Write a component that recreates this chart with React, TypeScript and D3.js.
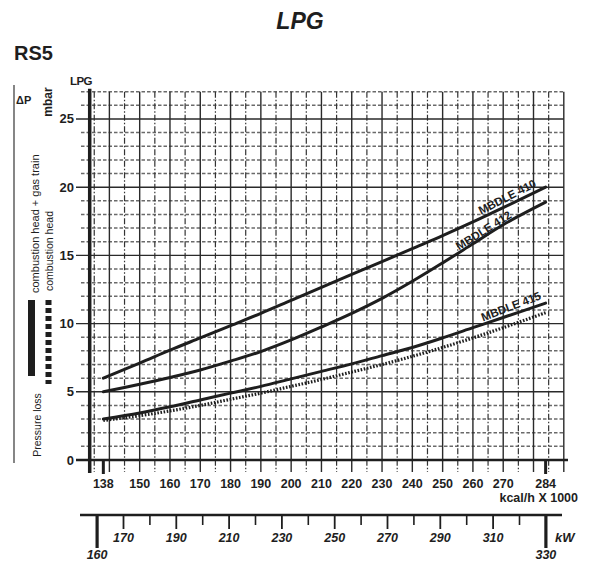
import React from "react";
import * as d3 from "d3";

// kcal/h x 1000
const kcal = [138, 150, 160, 170, 180, 190, 200, 210, 220, 230, 240, 250, 260, 270, 284];
// pressure loss, mbar
const mbdle410 = [6.0, 7.1, 8.05, 8.95, 9.85, 10.75, 11.7, 12.65, 13.6, 14.55, 15.5, 16.45, 17.45, 18.5, 20.0];
const mbdle412 = [5.0, 5.55, 6.05, 6.6, 7.25, 7.95, 8.8, 9.75, 10.75, 11.85, 13.1, 14.45, 15.85, 17.25, 18.9];
const mbdle415 = [3.0, 3.45, 3.9, 4.4, 4.9, 5.4, 5.95, 6.5, 7.05, 7.65, 8.25, 8.95, 9.7, 10.45, 11.5];
const headOnly = [2.9, 3.25, 3.6, 4.0, 4.45, 4.9, 5.4, 5.9, 6.45, 7.0, 7.6, 8.25, 8.95, 9.7, 10.8];

const xTickLabels = [138, 150, 160, 170, 180, 190, 200, 210, 220, 230, 240, 250, 260, 270, 284];
const yTickLabels = [0, 5, 10, 15, 20, 25];
const kwLabels = [170, 190, 210, 230, 250, 270, 290, 310];
const kwMinor = [180, 200, 220, 240, 260, 280, 300, 320];
const kwEnds = [160, 330];

const curveLabels = [
  { text: "MBDLE 410", series: mbdle410, k: 272.5, angle: -27, dy: -4 },
  { text: "MBDLE 412", series: mbdle412, k: 264.5, angle: -32, dy: -1.5 },
  { text: "MBDLE 415", series: mbdle415, k: 273.5, angle: -21, dy: -4 },
];

const W = 595;
const H = 564;
const INK = "#1e1e1e";
const FONT = "'Liberation Sans', Arial, Helvetica, sans-serif";
const NARROW = "'Liberation Sans Narrow', 'Arial Narrow', 'Liberation Sans', sans-serif";

export default function App() {
  const x = d3.scaleLinear().domain([133.5, 290]).range([89.7, 563.8]);
  const y = d3.scaleLinear().domain([0, 27]).range([460, 91.7]);
  const kw = d3.scaleLinear().domain([160, 330]).range([97.1, 545.9]);

  const line = (vals: number[]) =>
    d3
      .line<number>()
      .x((_, i) => x(kcal[i]))
      .y((d) => y(d))
      .curve(d3.curveCatmullRom.alpha(0.5))(vals) as string;

  const valueAt = (series: number[], k: number) => {
    const i = Math.max(1, d3.bisectLeft(kcal, k));
    const t = (k - kcal[i - 1]) / (kcal[i] - kcal[i - 1]);
    return series[i - 1] + t * (series[i] - series[i - 1]);
  };

  const hMinor = d3.range(1, 28).filter((v) => v % 5 !== 0);
  const vMajor = d3.range(140, 291, 10);
  const vMinor = d3.range(135, 290, 10);
  const yTop = y(27);
  const xRight = x(290);

  return (
    <svg
      width={W}
      height={H}
      viewBox={`0 0 ${W} ${H}`}
      style={{ position: "absolute", left: 0, top: 0, background: "#fff" }}
    >
      <rect x={0} y={0} width={W} height={H} fill="#fff" />
      {/* Titles */}
      <text x={300} y={29} textAnchor="middle" fontFamily={FONT} fontWeight="bold" fontStyle="italic" fontSize={23} fill={INK}>
        LPG
      </text>
      <text x={14} y={60} fontFamily={FONT} fontWeight="bold" fontSize={20} fill={INK}>
        RS5
      </text>

      {/* Horizontal minor dashed grid */}
      {hMinor.map((v) => (
        <line key={"hm" + v} x1={81} x2={xRight} y1={y(v)} y2={y(v)} stroke="#6a6a6a" strokeWidth={1.5} strokeDasharray="3.5,2" />
      ))}
      {/* Vertical minor dash-dot grid */}
      {vMinor.map((v) => (
        <line key={"vm" + v} x1={x(v)} x2={x(v)} y1={yTop} y2={472} stroke="#333" strokeWidth={1.2} strokeDasharray="6,2,1.5,2" />
      ))}
      {/* Horizontal major grid */}
      {yTickLabels.filter((v) => v > 0).map((v) => (
        <line key={"hM" + v} x1={76} x2={xRight} y1={y(v)} y2={y(v)} stroke="#2a2a2a" strokeWidth={1.4} />
      ))}
      {/* Vertical major grid */}
      {vMajor.map((v) => (
        <line key={"vM" + v} x1={x(v)} x2={x(v)} y1={yTop} y2={472} stroke="#2a2a2a" strokeWidth={1.4} />
      ))}

      {/* Axes */}
      <line x1={76} x2={568} y1={y(0)} y2={y(0)} stroke={INK} strokeWidth={2.6} />
      <line x1={x(133.5)} x2={x(133.5)} y1={yTop - 3} y2={473} stroke={INK} strokeWidth={3.5} />
      {[138, 284].map((v) => (
        <line key={"end" + v} x1={x(v)} x2={x(v)} y1={y(0)} y2={474} stroke={INK} strokeWidth={3} />
      ))}

      {/* Y tick labels */}
      {yTickLabels.map((v) => (
        <text key={"yl" + v} x={74} y={y(v) + 4.5} textAnchor="end" fontFamily={FONT} fontWeight="bold" fontSize={13} fill={INK}>
          {v}
        </text>
      ))}
      {/* X tick labels */}
      {xTickLabels.map((v) => (
        <text key={"xl" + v} x={x(v)} y={488} textAnchor="middle" fontFamily={FONT} fontWeight="bold" fontSize={12.5} fill={INK}>
          {v}
        </text>
      ))}
      <text x={578} y={502} textAnchor="end" fontFamily={FONT} fontWeight="bold" fontSize={12.5} fill={INK}>
        kcal/h X 1000
      </text>

      {/* Axis captions */}
      <text x={81} y={85} textAnchor="middle" fontFamily={NARROW} fontWeight="bold" fontSize={11.5} fill={INK} letterSpacing={-0.6}>
        LPG
      </text>
      <text transform={`translate(52,102) rotate(-90)`} textAnchor="middle" fontFamily={FONT} fontWeight="bold" fontSize={12} fill={INK}>
        mbar
      </text>
      <text x={16} y={104} fontFamily={FONT} fontWeight="bold" fontSize={11} fill={INK}>
        ΔP
      </text>
      <line x1={14} x2={14} y1={85} y2={463} stroke="#444" strokeWidth={1.3} />
      <text transform={`translate(41,425) rotate(-90)`} textAnchor="middle" fontFamily={FONT} fontSize={10.5} fill={INK}>
        Pressure loss
      </text>
      <line x1={31.5} x2={31.5} y1={300} y2={376} stroke={INK} strokeWidth={7} />
      <line x1={48.5} x2={48.5} y1={300} y2={384} stroke={INK} strokeWidth={6} strokeDasharray="5,3" />
      <text transform={`translate(39,293) rotate(-90)`} textAnchor="start" fontFamily={FONT} fontSize={11} fill={INK}>
        combustion head + gas train
      </text>
      <text transform={`translate(53,291) rotate(-90)`} textAnchor="start" fontFamily={FONT} fontSize={10.5} fill={INK}>
        combustion head
      </text>

      {/* Curves */}
      <path d={line(headOnly)} fill="none" stroke={INK} strokeWidth={3.2} strokeDasharray="1.6,1.6" />
      <path d={line(mbdle415)} fill="none" stroke={INK} strokeWidth={3} strokeLinecap="round" />
      <path d={line(mbdle412)} fill="none" stroke={INK} strokeWidth={3} strokeLinecap="round" />
      <path d={line(mbdle410)} fill="none" stroke={INK} strokeWidth={3} strokeLinecap="round" />
      {curveLabels.map((l) => (
        <text
          key={l.text}
          transform={`translate(${x(l.k)},${y(valueAt(l.series, l.k))}) rotate(${l.angle})`}
          textAnchor="middle"
          dy={l.dy}
          fontFamily={NARROW}
          fontWeight="bold"
          fontSize={11.5}
          fill={INK}
          textLength={63}
          lengthAdjust="spacingAndGlyphs"
        >
          {l.text}
        </text>
      ))}

      {/* kW axis */}
      <line x1={80} x2={562} y1={515} y2={515} stroke={INK} strokeWidth={2.5} />
      {kwLabels.map((v) => (
        <line key={"kt" + v} x1={kw(v)} x2={kw(v)} y1={515} y2={529} stroke={INK} strokeWidth={1.8} />
      ))}
      {kwMinor.map((v) => (
        <line key={"km" + v} x1={kw(v)} x2={kw(v)} y1={515} y2={525} stroke={INK} strokeWidth={1.6} />
      ))}
      {kwEnds.map((v) => (
        <line key={"ke" + v} x1={kw(v)} x2={kw(v)} y1={515} y2={548} stroke={INK} strokeWidth={3.2} />
      ))}
      {kwLabels.map((v) => (
        <text key={"kl" + v} x={kw(v)} y={542} textAnchor="middle" fontFamily={FONT} fontWeight="bold" fontStyle="italic" fontSize={12.5} fill={INK}>
          {v}
        </text>
      ))}
      {kwEnds.map((v) => (
        <text key={"kel" + v} x={kw(v)} y={559} textAnchor="middle" fontFamily={FONT} fontWeight="bold" fontStyle="italic" fontSize={12.5} fill={INK}>
          {v}
        </text>
      ))}
      <text x={555} y={542} fontFamily={FONT} fontWeight="bold" fontStyle="italic" fontSize={13} fill={INK}>
        kW
      </text>
    </svg>
  );
}
